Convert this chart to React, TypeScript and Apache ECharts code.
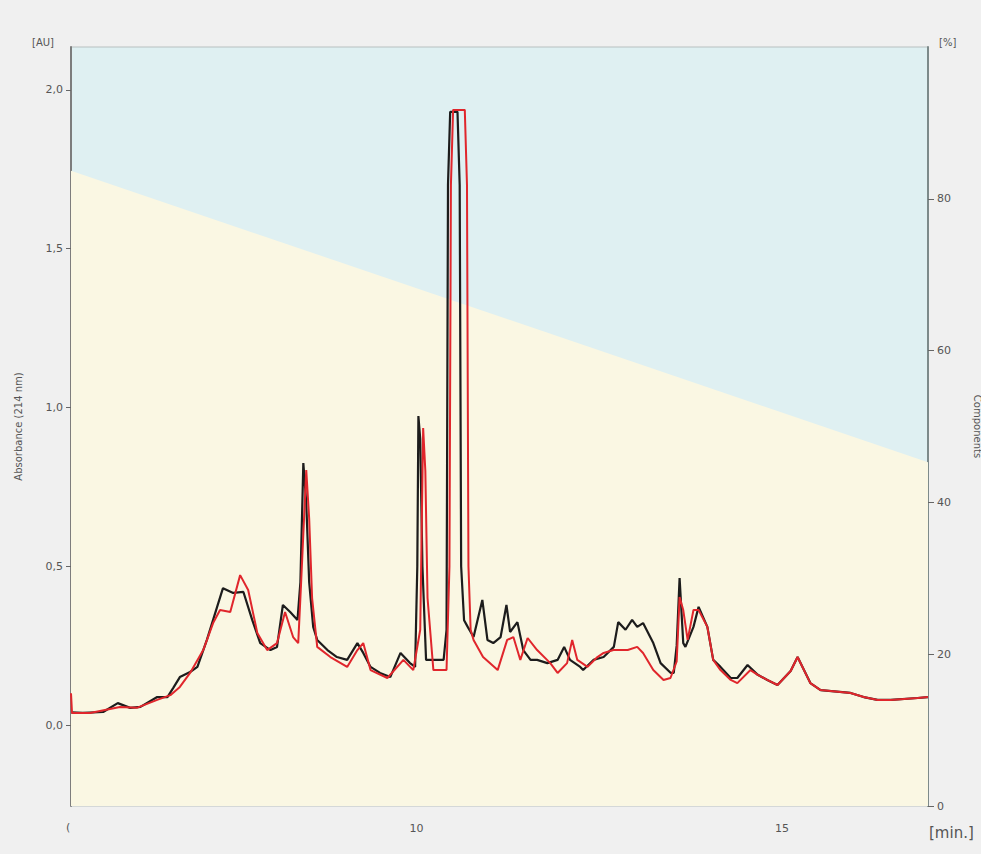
import React, { useEffect, useRef } from "react";
import * as echarts from "echarts";

// Retention time axis (min) and absorbance traces (AU)
const xTicks = [10, 15];
const leftTicks = [0, 0.5, 1.0, 1.5, 2.0];
const rightTicks = [0, 20, 40, 60, 80];

// Gradient (% B) at start and end of the run
const gradient: [number, number][] = [
  [5.27, 83.7],
  [17.0, 45.3],
];

const blackTrace: [number, number][] = [
  [5.27, 0.04], [5.43, 0.038], [5.71, 0.041], [5.91, 0.069], [6.08, 0.054], [6.22, 0.057],
  [6.45, 0.088], [6.59, 0.088], [6.67, 0.117], [6.76, 0.151], [6.9, 0.167], [7.0, 0.183],
  [7.13, 0.268], [7.27, 0.372], [7.35, 0.431], [7.49, 0.416], [7.63, 0.419], [7.75, 0.331],
  [7.86, 0.258], [8.0, 0.236], [8.09, 0.246], [8.17, 0.378], [8.27, 0.356], [8.37, 0.331],
  [8.41, 0.45], [8.45, 0.825], [8.49, 0.7], [8.53, 0.45], [8.585, 0.309], [8.64, 0.268],
  [8.78, 0.236], [8.91, 0.214], [9.05, 0.205], [9.19, 0.258], [9.27, 0.227], [9.37, 0.183],
  [9.5, 0.164], [9.64, 0.151], [9.78, 0.227], [9.91, 0.195], [9.98, 0.183], [10.01, 0.5],
  [10.025, 0.973], [10.05, 0.9], [10.08, 0.5], [10.13, 0.205], [10.23, 0.205], [10.37, 0.205],
  [10.41, 0.3], [10.43, 1.7], [10.46, 1.931], [10.56, 1.931], [10.59, 1.7], [10.61, 0.5],
  [10.65, 0.33], [10.7, 0.309], [10.78, 0.277], [10.9, 0.394], [10.97, 0.268], [11.05, 0.258],
  [11.15, 0.277], [11.23, 0.378], [11.28, 0.293], [11.38, 0.324], [11.46, 0.236], [11.56, 0.205],
  [11.65, 0.205], [11.79, 0.195], [11.93, 0.205], [12.02, 0.246], [12.1, 0.205], [12.24, 0.183],
  [12.28, 0.173], [12.42, 0.205], [12.56, 0.214], [12.7, 0.246], [12.76, 0.324], [12.86, 0.3],
  [12.95, 0.331], [13.02, 0.309], [13.1, 0.321], [13.24, 0.258], [13.34, 0.195], [13.48, 0.164],
  [13.52, 0.164], [13.56, 0.25], [13.6, 0.463], [13.65, 0.258], [13.68, 0.246], [13.79, 0.309],
  [13.86, 0.372], [13.98, 0.309], [14.06, 0.205], [14.16, 0.183], [14.3, 0.148], [14.39, 0.148],
  [14.53, 0.189], [14.67, 0.158], [14.8, 0.142], [14.94, 0.126], [15.12, 0.17], [15.215, 0.214],
  [15.39, 0.132], [15.53, 0.11], [15.94, 0.101], [16.12, 0.088], [16.31, 0.079], [16.49, 0.079],
  [16.86, 0.085], [17.0, 0.088],
];

const redTrace: [number, number][] = [
  [5.27, 0.1], [5.284, 0.038], [5.53, 0.038], [5.94, 0.057], [6.17, 0.054], [6.45, 0.079],
  [6.63, 0.094], [6.76, 0.12], [6.9, 0.164], [7.08, 0.236], [7.215, 0.321], [7.31, 0.362],
  [7.45, 0.356], [7.585, 0.472], [7.695, 0.425], [7.82, 0.29], [7.955, 0.236], [8.09, 0.258],
  [8.2, 0.356], [8.31, 0.277], [8.38, 0.258], [8.42, 0.45], [8.49, 0.803], [8.53, 0.65],
  [8.57, 0.4], [8.64, 0.246], [8.82, 0.214], [9.05, 0.183], [9.19, 0.236], [9.27, 0.258],
  [9.37, 0.173], [9.6, 0.148], [9.82, 0.205], [9.955, 0.173], [10.05, 0.3], [10.09, 0.935],
  [10.12, 0.8], [10.15, 0.4], [10.23, 0.173], [10.41, 0.173], [10.45, 0.5], [10.47, 1.7],
  [10.5, 1.937], [10.66, 1.937], [10.69, 1.7], [10.71, 0.5], [10.74, 0.3], [10.78, 0.268],
  [10.91, 0.214], [11.11, 0.173], [11.24, 0.268], [11.325, 0.277], [11.42, 0.205], [11.52, 0.274],
  [11.65, 0.236], [11.83, 0.195], [11.93, 0.164], [12.06, 0.195], [12.13, 0.268], [12.2, 0.205],
  [12.34, 0.183], [12.475, 0.214], [12.56, 0.227], [12.695, 0.236], [12.89, 0.236], [13.02, 0.246],
  [13.1, 0.227], [13.24, 0.173], [13.38, 0.142], [13.475, 0.148], [13.56, 0.2], [13.6, 0.403],
  [13.65, 0.362], [13.71, 0.268], [13.79, 0.362], [13.86, 0.362], [13.98, 0.309], [14.06, 0.205],
  [14.16, 0.173], [14.3, 0.142], [14.39, 0.132], [14.57, 0.173], [14.67, 0.158], [14.8, 0.142],
  [14.94, 0.126], [15.12, 0.17], [15.215, 0.214], [15.39, 0.132], [15.53, 0.11], [15.94, 0.101],
  [16.12, 0.088], [16.31, 0.079], [16.49, 0.079], [16.86, 0.085], [17.0, 0.088],
];

const FONT = "DejaVu Sans";
const LABEL = "#555";

export default function App() {
  const ref = useRef<HTMLDivElement>(null);
  useEffect(() => {
    if (!ref.current) return;
    const chart = echarts.init(ref.current, null, { renderer: "svg" });
    chart.setOption({
      animation: false,
      backgroundColor: "#f0f0f0",
      grid: {
        left: 71,
        right: 53,
        top: 47,
        bottom: 48,
        containLabel: false,
        outerBoundsMode: "none",
        show: true,
        backgroundColor: "#dff0f2",
        borderColor: "#b8c0c0",
        borderWidth: 1,
      },
      xAxis: {
        type: "value",
        min: 5.27,
        max: 17.0,
        axisLine: { show: true, lineStyle: { color: "#8a8478", width: 2 } },
        axisTick: { show: true, length: 5, lineStyle: { color: "#666" }, customValues: xTicks },
        axisLabel: {
          color: LABEL,
          fontFamily: FONT,
          fontSize: 11,
          margin: 17,
          customValues: xTicks,
          formatter: (v: number) => String(Math.round(v)),
        },
        splitLine: { show: false },
      },
      yAxis: [
        {
          type: "value",
          min: -0.255,
          max: 2.135,
          position: "left",
          name: "Absorbance (214 nm)",
          nameLocation: "middle",
          nameGap: 48,
          nameTextStyle: { color: LABEL, fontFamily: FONT, fontSize: 10 },
          axisLine: { show: true, lineStyle: { color: "#7d7d7d", width: 2 } },
          axisTick: { show: true, length: 5, lineStyle: { color: "#666" }, customValues: leftTicks },
          axisLabel: {
            color: LABEL,
            fontFamily: FONT,
            fontSize: 11,
            margin: 8,
            customValues: leftTicks,
            formatter: (v: number) => v.toFixed(1).replace(".", ","),
          },
          splitLine: { show: false },
        },
        {
          type: "value",
          min: 0,
          max: 100,
          position: "right",
          name: "Components",
          nameLocation: "middle",
          nameGap: 44,
          nameRotate: -90,
          nameTextStyle: { color: LABEL, fontFamily: FONT, fontSize: 10 },
          axisLine: { show: true, lineStyle: { color: "#7d8a8a", width: 2 } },
          axisTick: { show: true, length: 6, lineStyle: { color: "#666" }, customValues: rightTicks },
          axisLabel: {
            color: LABEL,
            fontFamily: FONT,
            fontSize: 11,
            margin: 9,
            customValues: rightTicks,
          },
          splitLine: { show: false },
        },
      ],
      graphic: [
        { type: "text", left: 32, top: 37, style: { text: "[AU]", fill: LABEL, font: `10px "${FONT}"` } },
        { type: "text", left: 939, top: 37, style: { text: "[%]", fill: LABEL, font: `10px "${FONT}"` } },
        { type: "text", left: 929, top: 825, style: { text: "[min.]", fill: "#555", font: `15px "${FONT}"` } },
        { type: "text", left: 66, top: 822, style: { text: "(", fill: LABEL, font: `11px "${FONT}"` } },
      ],
      series: [
        {
          type: "line",
          yAxisIndex: 1,
          data: gradient,
          symbol: "none",
          lineStyle: { width: 0, opacity: 0 },
          areaStyle: { color: "#faf7e3", opacity: 1 },
          silent: true,
          z: 1,
        },
        {
          type: "line",
          yAxisIndex: 0,
          data: blackTrace,
          symbol: "none",
          lineStyle: { color: "#1c1c1c", width: 2.2 },
          z: 3,
        },
        {
          type: "line",
          yAxisIndex: 0,
          data: redTrace,
          symbol: "none",
          lineStyle: { color: "#e0262c", width: 2 },
          z: 4,
        },
      ],
    });
    return () => chart.dispose();
  }, []);
  return (
    <div
      ref={ref}
      style={{ position: "fixed", left: 0, top: 0, width: 981, height: 854 }}
    />
  );
}
